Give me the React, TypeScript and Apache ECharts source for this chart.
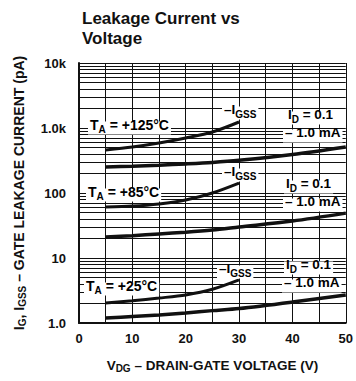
import React, { useEffect, useRef } from "react";
import * as echarts from "echarts";

// ---- data ----
const voltIgss = [5, 10, 15, 20, 25, 30];
const voltId = [5, 10, 15, 20, 25, 30, 40, 50];

const igss125 = [460, 510, 588, 702, 868, 1237];
const id125 = [251, 258, 268, 280, 295, 318, 390, 510];
const igss85 = [61, 63, 68, 78, 100, 142];
const id85 = [21, 22, 23.5, 25, 27, 30, 37, 49];
const igss25 = [2.03, 2.2, 2.42, 2.7, 3.3, 4.6];
const id25 = [1.19, 1.26, 1.33, 1.43, 1.55, 1.67, 2.1, 2.7];

const yTickValues = [1, 10, 100, 1000, 10000];
const yTickLabels = ["1.0", "10", "100", "1.0k", "10k"];
const decades = [1, 10, 100, 1000];
const minorMultipliers = [2, 3, 4, 5, 6, 7, 8, 9];

const FONT = '"Liberation Sans", Arial, sans-serif';
const INK = "#111";

function makeRich(size: number) {
  return {
    m: { fontSize: size, fontWeight: "bold", fontFamily: FONT, color: INK, lineHeight: 13, padding: [0, 0, 3, 0], verticalAlign: "bottom" },
    s: { fontSize: 10, fontWeight: "bold", fontFamily: FONT, color: INK, lineHeight: 10, verticalAlign: "bottom" },
  };
}

function pairs(xs: number[], ys: number[]) {
  return xs.map((x, i) => [x, ys[i]]);
}

function lbl(x: number, y: number, text: string, size = 14) {
  return {
    type: "text",
    x,
    y,
    z: 100,
    style: {
      text,
      rich: makeRich(size),
      align: "left",
      verticalAlign: "middle",
      backgroundColor: "#fff",
      padding: [0, 2, 0, 2],
    },
  };
}

export default function App() {
  const ref = useRef<HTMLDivElement>(null);
  useEffect(() => {
    const chart = echarts.init(ref.current!, null, { renderer: "svg" });
    const minorValues: number[] = [];
    decades.forEach((d) => minorMultipliers.forEach((k) => minorValues.push(d * k)));

    const lineSeries = (data: number[][], width: number) => ({
      type: "line",
      data,
      smooth: 0.3,
      symbol: "none",
      lineStyle: { color: INK, width },
      z: 5,
    });

    chart.setOption({
      animation: false,
      backgroundColor: "#fff",
      title: {
        text: "Leakage Current vs\nVoltage",
        left: 77,
        top: 3,
        textStyle: { fontSize: 17, fontWeight: "bold", fontFamily: FONT, color: INK, lineHeight: 20 },
      },
      grid: { left: 79, right: 3, top: 63, bottom: 58 },
      xAxis: {
        type: "value",
        min: 0,
        max: 50,
        interval: 10,
        name: "V{s|DG} – DRAIN-GATE VOLTAGE (V)",
        nameLocation: "middle",
        nameGap: 34,
        nameTextStyle: {
          rich: {
            s: { fontSize: 10, fontWeight: "bold", fontFamily: FONT, color: INK, padding: [6, 0, 0, 0] },
          },
          fontSize: 13.5,
          fontWeight: "bold",
          fontFamily: FONT,
          color: INK,
        },
        axisLine: { show: true, lineStyle: { color: INK, width: 2 } },
        axisTick: { show: false },
        axisLabel: { fontSize: 13, fontWeight: "bold", fontFamily: FONT, color: INK, margin: 9 },
        splitLine: { show: true, lineStyle: { color: INK, width: 1 } },
        minorTick: { show: false, splitNumber: 2 },
        minorSplitLine: { show: true, lineStyle: { color: INK, width: 1 } },
      },
      yAxis: {
        type: "log",
        logBase: 10,
        min: 1,
        max: 10000,
        name: "I{s|G}, I{s|GSS} – GATE LEAKAGE CURRENT (pA)",
        nameLocation: "middle",
        nameGap: 52,
        nameRotate: 90,
        nameTextStyle: {
          rich: {
            s: { fontSize: 10, fontWeight: "bold", fontFamily: FONT, color: INK, padding: [6, 0, 0, 0] },
          },
          fontSize: 14,
          fontWeight: "bold",
          fontFamily: FONT,
          color: INK,
        },
        axisLine: { show: true, lineStyle: { color: INK, width: 2 } },
        axisTick: { show: false },
        axisLabel: {
          fontSize: 13,
          fontWeight: "bold",
          fontFamily: FONT,
          color: INK,
          margin: 13,
          formatter: (v: number) => {
            const i = yTickValues.findIndex((t) => Math.abs(t - v) / t < 1e-6);
            return i >= 0 ? yTickLabels[i] : "";
          },
        },
        splitLine: { show: true, lineStyle: { color: INK, width: 1.2 } },
      },
      series: [
        {
          ...lineSeries(pairs(voltIgss, igss125), 3),
          markLine: {
            silent: true,
            symbol: ["none", "none"],
            label: { show: false },
            lineStyle: { color: INK, width: 1, type: "solid" },
            data: minorValues.map((v) => ({ yAxis: v })),
            z: 1,
          },
        },
        lineSeries(pairs(voltId, id125), 3.5),
        lineSeries(pairs(voltIgss, igss85), 3),
        lineSeries(pairs(voltId, id85), 3.5),
        lineSeries(pairs(voltIgss, igss25), 3),
        lineSeries(pairs(voltId, id25), 3.5),
      ],
      graphic: [
        lbl(88, 128, "{m|T}{s|A}{m| = +125°C}", 14),
        lbl(222, 113, "{m|–I}{s|GSS}", 13.5),
        lbl(286, 118, "{m|I}{s|D}{m| = 0.1}", 13.5),
        lbl(283, 136, "{m|– 1.0 mA}", 13.5),
        lbl(86, 195, "{m|T}{s|A}{m| = +85°C}", 14),
        lbl(222, 175, "{m|–I}{s|GSS}", 13.5),
        lbl(284, 187, "{m|I}{s|D}{m| = 0.1}", 13.5),
        lbl(283, 205, "{m|– 1.0 mA}", 13.5),
        lbl(84, 289, "{m|T}{s|A}{m| = +25°C}", 14),
        lbl(217, 272, "{m|–I}{s|GSS}", 13.5),
        lbl(284, 268, "{m|I}{s|D}{m| = 0.1}", 13.5),
        lbl(282, 286, "{m|– 1.0 mA}", 13.5),
      ],
    });
    return () => chart.dispose();
  }, []);
  return (
    <div
      ref={ref}
      style={{ position: "fixed", left: 0, top: 0, width: 356, height: 381, background: "#fff" }}
    />
  );
}
